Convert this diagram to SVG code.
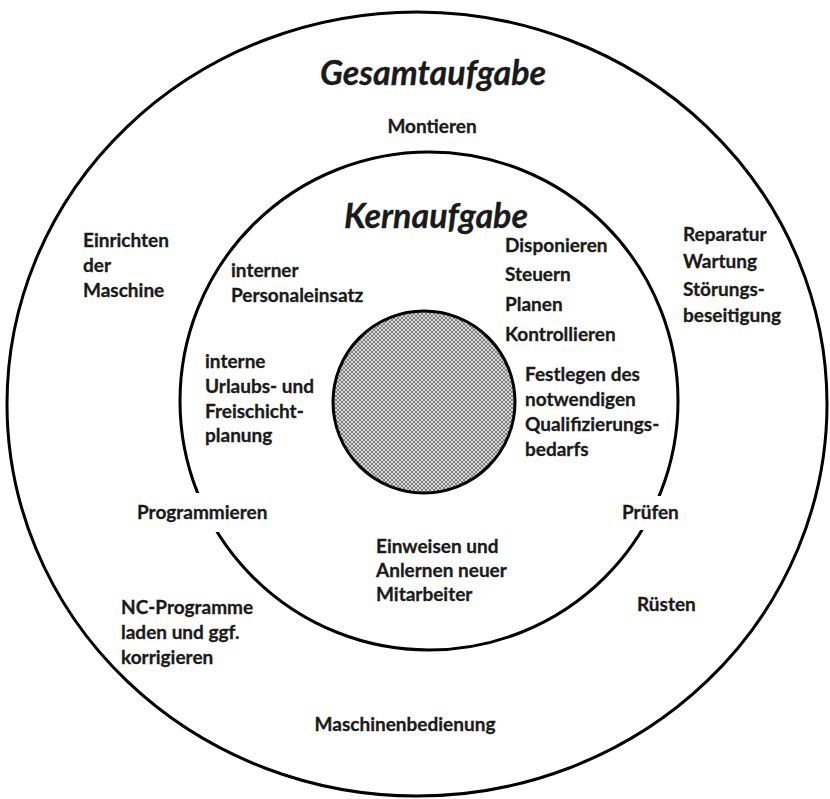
<svg xmlns="http://www.w3.org/2000/svg" width="830" height="799" viewBox="0 0 830 799">
  <style>
    .ring { fill: none; stroke: #000; stroke-width: 3; }
    .lbl { font-family: Lato, "Liberation Sans", sans-serif; font-weight: bold; font-size: 19px; fill: #1a1a1a; stroke: #1a1a1a; stroke-width: 0.3; }
    .ttl { font-family: Lato, "Liberation Sans", sans-serif; font-weight: bold; font-style: italic; font-size: 34px; fill: #1a1a1a; stroke: #1a1a1a; stroke-width: 0.3; }
    .mask { fill: #fff; }
  </style>
  <defs>
    <!-- fine cross-hatch used for the core -->
    <pattern id="hatch" width="4" height="4" patternUnits="userSpaceOnUse">
      <rect width="4" height="4" fill="#d6d6d6"/>
      <path d="M0,0 L4,4 M4,0 L0,4" stroke="#707070" stroke-width="0.85"/>
    </pattern>
  </defs>
  <rect width="830" height="799" fill="#fff"/>

  <g id="connectors"></g>

  <!-- outer ring: overall task -->
  <g id="gesamtaufgabe">
    <ellipse class="ring" cx="417" cy="404" rx="410" ry="392"/>
    <text class="ttl" x="433" y="85" text-anchor="middle">Gesamtaufgabe</text>
  </g>

  <!-- middle ring: core task -->
  <g id="kernaufgabe">
    <circle class="ring" cx="429" cy="401" r="249"/>
    <text class="ttl" x="436" y="228" text-anchor="middle">Kernaufgabe</text>
  </g>

  <!-- hatched centre -->
  <g id="kern">
    <circle cx="424" cy="402" r="91" fill="url(#hatch)" stroke="#000" stroke-width="3"/>
  </g>

  <g id="montieren">
    <text class="lbl" x="432" y="133" text-anchor="middle">Montieren</text>
  </g>

  <g id="einrichten">
    <text class="lbl" x="83" y="247">Einrichten</text>
    <text class="lbl" x="83" y="272">der</text>
    <text class="lbl" x="83" y="297">Maschine</text>
  </g>

  <g id="personaleinsatz">
    <text class="lbl" x="231" y="277">interner</text>
    <text class="lbl" x="231" y="302">Personaleinsatz</text>
  </g>

  <g id="disponieren">
    <text class="lbl" x="505" y="252">Disponieren</text>
    <text class="lbl" x="505" y="281">Steuern</text>
    <text class="lbl" x="505" y="311">Planen</text>
    <text class="lbl" x="505" y="341">Kontrollieren</text>
  </g>

  <g id="reparatur">
    <text class="lbl" x="683" y="241">Reparatur</text>
    <text class="lbl" x="683" y="268">Wartung</text>
    <text class="lbl" x="683" y="296">Störungs-</text>
    <text class="lbl" x="683" y="322">beseitigung</text>
  </g>

  <g id="urlaubsplanung">
    <text class="lbl" x="205" y="368">interne</text>
    <text class="lbl" x="205" y="393">Urlaubs- und</text>
    <text class="lbl" x="205" y="418">Freischicht-</text>
    <text class="lbl" x="205" y="442">planung</text>
  </g>

  <g id="qualifizierung">
    <text class="lbl" x="525" y="381">Festlegen des</text>
    <text class="lbl" x="525" y="406">notwendigen</text>
    <text class="lbl" x="525" y="431">Qualifizierungs-</text>
    <text class="lbl" x="525" y="456">bedarfs</text>
  </g>

  <!-- white boxes behind these two labels hide the ring where it runs under them -->
  <g id="programmieren">
    <rect class="mask" x="132" y="493" width="142" height="39"/>
    <text class="lbl" x="137" y="519">Programmieren</text>
  </g>

  <g id="pruefen">
    <rect class="mask" x="617" y="496" width="60" height="34"/>
    <text class="lbl" x="622" y="519">Prüfen</text>
  </g>

  <g id="einweisen">
    <text class="lbl" x="376" y="553">Einweisen und</text>
    <text class="lbl" x="376" y="577">Anlernen neuer</text>
    <text class="lbl" x="376" y="601">Mitarbeiter</text>
  </g>

  <g id="ruesten">
    <text class="lbl" x="637" y="611">Rüsten</text>
  </g>

  <g id="nc-programme">
    <text class="lbl" x="121" y="614">NC-Programme</text>
    <text class="lbl" x="121" y="639">laden und ggf.</text>
    <text class="lbl" x="121" y="664">korrigieren</text>
  </g>

  <g id="maschinenbedienung">
    <text class="lbl" x="405" y="731" text-anchor="middle">Maschinenbedienung</text>
  </g>
</svg>
